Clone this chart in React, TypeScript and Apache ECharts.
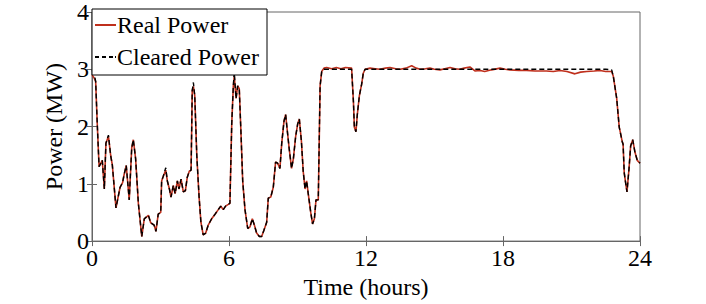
import React, { useEffect, useRef } from "react";
import * as echarts from "echarts";

const hours = [
  0.0, 0.09, 0.16, 0.23, 0.31, 0.45, 0.54, 0.61, 0.72, 0.82, 0.89, 1.05, 1.23, 1.34, 1.4, 1.5,
  1.63, 1.74, 1.81, 1.91, 2.03, 2.18, 2.29, 2.47, 2.57, 2.72, 2.8, 2.9, 3.01, 3.05, 3.12, 3.23,
  3.3, 3.39, 3.46, 3.56, 3.64, 3.74, 3.81, 3.9, 4.0, 4.09, 4.17, 4.26, 4.34, 4.39, 4.44, 4.5,
  4.59, 4.69, 4.77, 4.87, 4.98, 5.09, 5.24, 5.39, 5.53, 5.64, 5.75, 5.85, 5.97, 6.04, 6.12, 6.19,
  6.23, 6.31, 6.38, 6.45, 6.53, 6.6, 6.7, 6.82, 6.92, 7.02, 7.11, 7.21, 7.33, 7.43, 7.53, 7.65,
  7.72, 7.83, 7.94, 8.04, 8.13, 8.23, 8.31, 8.41, 8.48, 8.55, 8.64, 8.74, 8.82, 8.92, 9.01, 9.08,
  9.17, 9.25, 9.33, 9.4, 9.47, 9.58, 9.66, 9.74, 9.81, 9.91, 9.99, 10.06, 10.16, 10.28, 10.5, 10.7,
  10.9, 11.1, 11.37, 11.45, 11.49, 11.56, 11.62, 11.71, 11.81, 11.88, 11.96, 12.18, 12.4, 12.61, 12.85, 13.05,
  13.3, 13.5, 13.75, 14.0, 14.2, 14.37, 14.6, 14.8, 15.0, 15.24, 15.45, 15.68, 15.9, 16.1, 16.3, 16.55,
  16.77, 17.0, 17.2, 17.5, 17.87, 18.1, 18.3, 18.7, 19.03, 19.4, 19.9, 20.2, 20.5, 20.8, 21.15, 21.4,
  21.67, 22.0, 22.25, 22.5, 22.76, 22.83, 22.98, 23.09, 23.22, 23.26, 23.31, 23.37, 23.43, 23.52, 23.59, 23.68,
  23.78, 23.88, 24.0,
];

const realPower = [
  2.9, 2.85, 2.79, 2.05, 1.3, 1.41, 0.91, 1.71, 1.83, 1.49, 1.33, 0.58, 0.94, 1.02, 1.15, 1.32,
  0.72, 1.63, 1.77, 1.44, 0.66, 0.08, 0.39, 0.45, 0.32, 0.28, 0.17, 0.47, 0.5, 1.05, 1.13, 1.24,
  1.05, 0.91, 0.77, 0.97, 0.83, 1.05, 0.91, 1.08, 0.86, 0.88, 1.11, 1.22, 1.24, 2.63, 2.7, 2.54,
  1.49, 0.77, 0.33, 0.11, 0.14, 0.28, 0.39, 0.47, 0.55, 0.61, 0.55, 0.61, 0.64, 0.66, 2.05, 2.71,
  2.88, 2.49, 2.71, 2.66, 1.83, 1.05, 0.55, 0.22, 0.25, 0.39, 0.28, 0.14, 0.08, 0.08, 0.19, 0.33,
  0.75, 0.77, 0.94, 1.38, 1.36, 1.27, 1.71, 2.1, 2.21, 1.94, 1.6, 1.27, 1.44, 1.83, 2.05, 2.13,
  1.75, 1.22, 0.91, 1.05, 0.83, 0.5, 0.3, 0.39, 0.72, 0.72, 2.71, 2.96, 3.02, 3.03, 3.01, 3.03,
  3.01, 3.03, 3.02, 2.43, 1.99, 1.91, 2.21, 2.54, 2.74, 2.93, 3.0, 3.02, 3.01, 3.0, 3.02, 3.03,
  3.01, 3.0, 3.02, 3.06, 3.02, 3.0, 3.01, 3.02, 3.0, 2.99, 3.01, 3.03, 3.01, 3.0, 3.02, 3.04,
  2.97, 2.98, 2.96, 2.99, 3.02, 3.0, 2.99, 2.98, 2.98, 2.97, 2.97, 2.96, 2.98, 2.96, 2.92, 2.95,
  2.96, 2.97, 2.98, 2.96, 2.96, 2.88, 2.49, 1.99, 1.74, 1.69, 1.19, 1.02, 0.86, 1.27, 1.66, 1.77,
  1.55, 1.41, 1.36,
];

const clearedPower = [
  2.98, 2.93, 2.79, 2.05, 1.3, 1.41, 0.91, 1.71, 1.85, 1.49, 1.33, 0.58, 0.94, 1.02, 1.15, 1.32,
  0.72, 1.63, 1.77, 1.44, 0.66, 0.08, 0.39, 0.45, 0.32, 0.28, 0.17, 0.47, 0.5, 1.05, 1.13, 1.28,
  1.05, 0.91, 0.77, 0.97, 0.83, 1.05, 0.91, 1.08, 0.86, 0.88, 1.11, 1.22, 1.24, 2.63, 2.77, 2.54,
  1.49, 0.77, 0.33, 0.11, 0.14, 0.28, 0.39, 0.47, 0.55, 0.61, 0.55, 0.61, 0.64, 0.66, 2.05, 2.71,
  2.95, 2.49, 2.71, 2.66, 1.83, 1.05, 0.55, 0.22, 0.25, 0.39, 0.28, 0.14, 0.08, 0.08, 0.19, 0.33,
  0.75, 0.77, 0.94, 1.38, 1.36, 1.27, 1.71, 2.1, 2.21, 1.94, 1.6, 1.27, 1.44, 1.83, 2.05, 2.13,
  1.75, 1.22, 0.91, 1.05, 0.83, 0.5, 0.3, 0.39, 0.72, 0.72, 2.71, 2.96, 3.0, 3.0, 3.0, 3.0,
  3.0, 3.0, 3.0, 2.43, 1.99, 1.91, 2.21, 2.54, 2.74, 2.93, 3.0, 3.0, 3.0, 3.0, 3.0, 3.0,
  3.0, 3.0, 3.0, 3.0, 3.0, 3.0, 3.0, 3.0, 3.0, 3.0, 3.0, 3.0, 3.0, 3.0, 3.0, 3.0,
  3.0, 3.0, 3.0, 3.0, 3.0, 3.0, 3.0, 3.0, 3.0, 3.0, 3.0, 3.0, 3.0, 3.0, 3.0, 3.0,
  3.0, 3.0, 3.0, 3.0, 2.99, 2.88, 2.49, 1.99, 1.74, 1.69, 1.19, 1.02, 0.86, 1.27, 1.66, 1.77,
  1.55, 1.41, 1.36,
];

const xTicks = [0, 6, 12, 18, 24];
const yTicks = [0, 1, 2, 3, 4];
const seriesNames = ["Real Power", "Cleared Power"];

const FONT = "Liberation Serif, Times New Roman, serif";
const RED = "#bf2f1c";

export default function App() {
  const ref = useRef<HTMLDivElement>(null);
  useEffect(() => {
    if (!ref.current) return;
    const chart = echarts.init(ref.current, undefined, { renderer: "svg" });
    const realData = hours.map((h, i) => [h, realPower[i]]);
    const clearedData = hours.map((h, i) => [h, clearedPower[i]]);
    const axisColor = "#666";
    const tickStyle = { show: true, inside: true, length: 5, lineStyle: { color: axisColor, width: 1 } };
    chart.setOption({
      animation: false,
      backgroundColor: "#fff",
      textStyle: { fontFamily: FONT },
      grid: {
        left: 92,
        right: 66,
        top: 9,
        bottom: 54,
        show: true,
        borderColor: axisColor,
        borderWidth: 1,
        backgroundColor: "transparent",
      },
      legend: {
        orient: "vertical",
        left: 92,
        top: 9,
        itemWidth: 21,
        itemHeight: 2,
        itemGap: 8,
        padding: [4, 0, 6, 3],
        borderColor: "#000",
        borderWidth: 1,
        backgroundColor: "#fff",
        textStyle: {
          fontFamily: FONT,
          fontSize: 24,
          color: "#000",
          width: 150,
          lineHeight: 24,
          padding: [0, 0, 0, -4],
        },
        data: [
          { name: seriesNames[0], icon: "path://M0,0H21V2H0Z", itemStyle: { color: RED } },
          {
            name: seriesNames[1],
            icon: "path://M0,0H4V2H0ZM7,0H11V2H7ZM14,0H18V2H14ZM20,0H21V2H20Z",
            itemStyle: { color: "#000" },
          },
        ],
      },
      xAxis: [
        {
          type: "value",
          min: xTicks[0],
          max: xTicks[xTicks.length - 1],
          interval: 6,
          name: "Time (hours)",
          nameLocation: "middle",
          nameGap: 25,
          nameTextStyle: { fontFamily: FONT, fontSize: 24, color: "#000" },
          axisLine: { show: true, lineStyle: { color: axisColor } },
          axisTick: tickStyle,
          axisLabel: { fontFamily: FONT, fontSize: 24, color: "#000", margin: 5 },
          splitLine: { show: false },
        },
        {
          type: "value",
          position: "top",
          min: xTicks[0],
          max: xTicks[xTicks.length - 1],
          interval: 6,
          axisLine: { show: true, lineStyle: { color: axisColor } },
          axisTick: tickStyle,
          axisLabel: { show: false },
          splitLine: { show: false },
        },
      ],
      yAxis: [
        {
          type: "value",
          min: yTicks[0],
          max: yTicks[yTicks.length - 1],
          interval: 1,
          name: "Power (MW)",
          nameLocation: "middle",
          nameGap: 12,
          nameTextStyle: { fontFamily: FONT, fontSize: 24, color: "#000" },
          axisLine: { show: true, lineStyle: { color: axisColor } },
          axisTick: tickStyle,
          axisLabel: { fontFamily: FONT, fontSize: 24, color: "#000", margin: 3 },
          splitLine: { show: false },
        },
        {
          type: "value",
          position: "right",
          min: yTicks[0],
          max: yTicks[yTicks.length - 1],
          interval: 1,
          axisLine: { show: true, lineStyle: { color: axisColor } },
          axisTick: tickStyle,
          axisLabel: { show: false },
          splitLine: { show: false },
        },
      ],
      series: [
        {
          name: seriesNames[0],
          type: "line",
          data: realData,
          symbol: "none",
          lineStyle: { color: RED, width: 1.6 },
          itemStyle: { color: RED },
          z: 2,
        },
        {
          name: seriesNames[1],
          type: "line",
          data: clearedData,
          symbol: "none",
          lineStyle: { color: "#000", width: 1.4, type: [5, 3] },
          itemStyle: { color: "#000" },
          z: 3,
        },
      ],
    });
    return () => chart.dispose();
  }, []);
  return <div ref={ref} style={{ width: 706, height: 304, position: "absolute", left: 0, top: 0 }} />;
}
